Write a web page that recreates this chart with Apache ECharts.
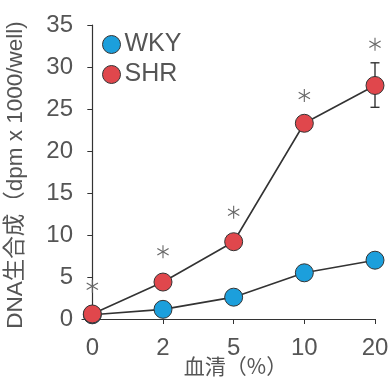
<!DOCTYPE html>
<html><head><meta charset="utf-8">
<script src="https://cdn.jsdelivr.net/npm/echarts@6/dist/echarts.min.js"></script>
<style>html,body{margin:0;padding:0;background:#fff}#c{width:390px;height:387px}</style>
</head><body><div id="c"></div>
<script>
var categories = ['0', '2', '5', '10', '20'];
var wky = [0.5, 1.15, 2.6, 5.5, 7.0];
var shr = [0.6, 4.4, 9.2, 23.3, 27.8];
var shrErrLow = [null, null, null, null, 25.2];
var shrErrHigh = [null, null, null, null, 30.5];
var asteriskY = [3.9, 8.0, 12.7, 26.6, 32.7];
var yTicks = [0, 5, 10, 15, 20, 25, 30, 35];

var FONT = "'Liberation Sans Narrow', 'Arial Narrow', 'Liberation Sans', sans-serif";
var TXT = '#555';
var RED = '#e0474c', BLUE = '#1c9fdc', EDGE = '#333';

function pairs(arr){ return arr.map(function(v,i){ return [i, v]; }); }
var errData = [];
shr.forEach(function(v,i){ if (shrErrLow[i] != null) errData.push([i, shrErrLow[i], shrErrHigh[i]]); });

var chart = echarts.init(document.getElementById('c'), null, {renderer:'canvas'});
chart.setOption({
  animation:false,
  grid:{left:82, right:15, top:25, bottom:68, containLabel:false, outerBoundsMode:'none'},
  legend:{
    orient:'vertical', left:97, top:27, itemWidth:18, itemHeight:18, itemGap:5,
    icon:'circle',
    textStyle:{fontFamily:FONT, fontSize:25, color:TXT, padding:[0,0,0,-1]},
    data:[
      {name:'WKY', itemStyle:{color:BLUE, borderColor:EDGE, borderWidth:1}},
      {name:'SHR', itemStyle:{color:RED, borderColor:EDGE, borderWidth:1}}
    ]
  },
  xAxis:{
    type:'value', min:-0.146, max:4,
    name:'血清（%）', nameLocation:'middle', nameGap:37, nameMoveOverlap:false,
    nameTextStyle:{fontFamily:"'Noto Sans CJK JP', sans-serif", fontSize:21, color:TXT, padding:[0,0,0,14]},
    axisLine:{show:true, lineStyle:{color:EDGE, width:1.2}},
    axisTick:{show:true, customValues:[0,1,2,3,4], length:5, lineStyle:{color:EDGE}},
    axisLabel:{customValues:[0,1,2,3,4], formatter:function(v){ return categories[Math.round(v)]; },
      fontFamily:FONT, fontSize:24, color:TXT, margin:17},
    splitLine:{show:false}
  },
  yAxis:{
    type:'value', min:0, max:35, interval:5,
    name:'DNA生合成（dpm x 1000/well)', nameLocation:'middle', nameGap:55,
    nameTextStyle:{fontFamily:"'Liberation Sans', 'Noto Sans CJK JP', sans-serif", fontSize:22.5, color:TXT, padding:[0,0,0,-6]},
    axisLine:{show:true, lineStyle:{color:EDGE, width:1.2}},
    axisTick:{show:true, length:5, lineStyle:{color:EDGE}},
    axisLabel:{fontFamily:FONT, fontSize:24, color:TXT, margin:9, formatter:function(v){ return yTicks.indexOf(v) >= 0 ? String(v) : ''; }},
    splitLine:{show:false}
  },
  series:[
    {name:'WKY', type:'line', data:pairs(wky), symbol:'circle', symbolSize:18,
      lineStyle:{color:EDGE, width:1.6}, itemStyle:{color:BLUE, borderColor:EDGE, borderWidth:1}, z:3},
    {name:'SHR-err', type:'custom', data:errData, z:4,
      renderItem:function(params, api){
        var x = api.value(0);
        var lo = api.coord([x, api.value(1)]);
        var hi = api.coord([x, api.value(2)]);
        var w = 4.5;
        var st = {stroke:EDGE, lineWidth:1.4};
        return {type:'group', children:[
          {type:'line', shape:{x1:lo[0], y1:lo[1], x2:hi[0], y2:hi[1]}, style:st},
          {type:'line', shape:{x1:lo[0]-w, y1:lo[1], x2:lo[0]+w, y2:lo[1]}, style:st},
          {type:'line', shape:{x1:hi[0]-w, y1:hi[1], x2:hi[0]+w, y2:hi[1]}, style:st}
        ]};
      }
    },
    {name:'SHR', type:'line', data:pairs(shr), symbol:'circle', symbolSize:18,
      lineStyle:{color:EDGE, width:1.6}, itemStyle:{color:RED, borderColor:EDGE, borderWidth:1}, z:5},
    {name:'sig', type:'custom', data:pairs(asteriskY), z:6,
      renderItem:function(params, api){
        var c = api.coord([api.value(0), api.value(1)]);
        var r = 6.5, st = {stroke:'#666', lineWidth:1.1};
        var kids = [];
        [90, 30, 150].forEach(function(a){
          var rad = a*Math.PI/180, dx = r*Math.cos(rad), dy = r*Math.sin(rad);
          kids.push({type:'line', shape:{x1:c[0]-dx, y1:c[1]-dy, x2:c[0]+dx, y2:c[1]+dy}, style:st});
        });
        return {type:'group', children:kids};
      }
    }
  ]
});
</script></body></html>
